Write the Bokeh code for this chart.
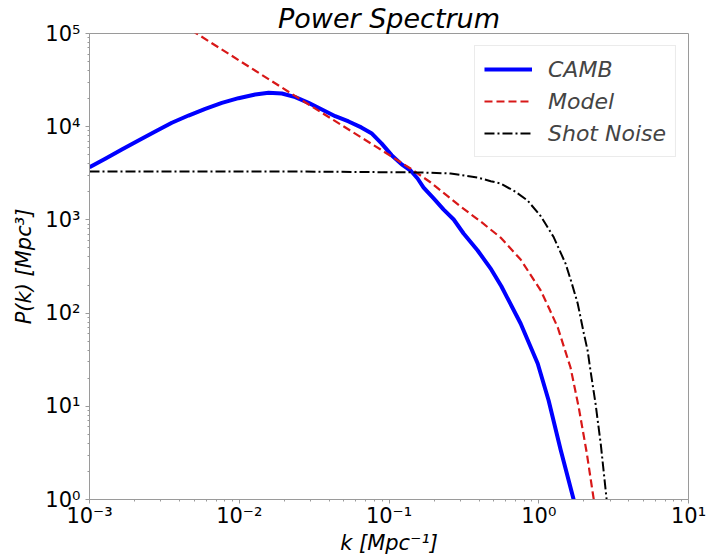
from bokeh.plotting import figure
from bokeh.models import FixedTicker, Legend, LegendItem, Range1d
from bokeh.embed import file_html
from bokeh.resources import INLINE

# ---- data ----
camb_k = [0.001000, 0.001274, 0.001644, 0.002123, 0.002748, 0.003548, 0.004581, 0.005929,
          0.007656, 0.009886, 0.01279, 0.01570, 0.01928, 0.02366, 0.02904, 0.03565,
          0.04375, 0.05370, 0.06530, 0.07630, 0.08910, 0.1041, 0.1215, 0.1393,
          0.1552, 0.1702, 0.1986, 0.2317, 0.2704, 0.3148, 0.3908, 0.4816, 0.5626,
          0.7568, 0.9840, 1.164, 1.400, 1.710, 1.905]
camb_p = [3673, 4529, 5689, 7112, 8872, 11020, 13180, 15560,
          18030, 20230, 22130, 23120, 22700, 20750, 18030, 15310,
          12970, 11380, 9830, 8520, 6630, 4950, 3940, 3388,
          2780, 2225, 1698, 1290, 1010, 714.5, 469.9, 294, 194,
          77.27, 28.77, 11.53, 3.41, 1.0, 0.3133]

model_k = [0.001, 0.00519, 0.0257, 0.0879, 0.139, 0.190, 0.221, 0.301, 0.409, 0.556,
           0.757, 1.03, 1.18, 1.34, 1.49, 1.63, 1.85, 2.09, 2.33, 2.59]
model_p = [524000, 100000, 19600, 5690, 3560, 2520, 2070, 1390, 962, 647,
           376, 175, 110, 70.0, 41.0, 26.1, 9.70, 3.19, 1.0, 0.313]

shot_k = [0.001, 0.0257, 0.163, 0.258, 0.391, 0.478, 0.556, 0.70, 0.843, 1.03, 1.26,
          1.51, 1.65, 1.82, 2.0, 2.12, 2.2, 2.4, 2.6, 2.84, 3.07]
shot_p = [3300, 3300, 3230, 3150, 2850, 2600, 2460, 2000, 1610, 1100, 650,
          340, 217, 127, 60.5, 39.7, 26.1, 10.4, 3.83, 1.0, 0.30]

x_ticks = [1e-3, 1e-2, 1e-1, 1e0, 1e1]
x_tick_labels = ["10⁻³", "10⁻²", "10⁻¹", "10⁰", "10¹"]
y_ticks = [1e0, 1e1, 1e2, 1e3, 1e4, 1e5]
y_tick_labels = ["10⁰", "10¹", "10²", "10³", "10⁴", "10⁵"]

series_names = ["CAMB", "Model", "Shot Noise"]

FONT = "DejaVu Sans"
SPINE = "#9a9a9a"

p = figure(width=708, height=560, x_axis_type="log", y_axis_type="log",
           x_range=Range1d(1e-3, 1e1), y_range=Range1d(1, 1e5),
           output_backend="svg", toolbar_location=None,
           min_border_left=89, min_border_right=20, min_border_top=33,
           min_border_bottom=61, title="Power Spectrum")

p.title.text_font = FONT
p.title.text_font_style = "italic"
p.title.text_font_size = "27px"
p.title.align = "center"
p.title.standoff = 0
p.title.text_color = "black"

p.xgrid.visible = False
p.ygrid.visible = False
p.outline_line_color = SPINE
p.outline_line_width = 1


def minor_list(lo, hi):
    out = []
    for e in range(lo, hi):
        for m in range(2, 10):
            out.append(m * 10.0 ** e)
    return out


p.xaxis.ticker = FixedTicker(ticks=x_ticks, minor_ticks=minor_list(-3, 1))
p.yaxis.ticker = FixedTicker(ticks=y_ticks, minor_ticks=minor_list(0, 5))
p.xaxis.major_label_overrides = dict(zip(x_ticks, x_tick_labels))
p.yaxis.major_label_overrides = dict(zip(y_ticks, y_tick_labels))

for ax in (p.xaxis, p.yaxis):
    ax.axis_line_color = SPINE
    ax.major_tick_line_color = SPINE
    ax.minor_tick_line_color = SPINE
    ax.major_tick_out = 4
    ax.major_tick_in = 0
    ax.minor_tick_out = 2
    ax.minor_tick_in = 0
    ax.major_label_text_font = FONT
    ax.major_label_text_font_size = "21px"
    ax.major_label_text_color = "black"
    ax.axis_label_text_font = FONT
    ax.axis_label_text_font_size = "21px"
    ax.axis_label_text_font_style = "italic"
    ax.axis_label_text_color = "black"

p.xaxis.axis_label = "k [Mpc⁻¹]"
p.yaxis.axis_label = "P(k) [Mpc³]"
p.xaxis.major_label_standoff = 0
p.yaxis.major_label_standoff = 5
p.xaxis.axis_label_standoff = 0
p.yaxis.axis_label_standoff = 6

r1 = p.line(camb_k, camb_p, line_color="#0000ff", line_width=4, line_join="round")
r2 = p.line(model_k, model_p, line_color="#d81818", line_width=2.2, line_dash="8 4")
r3 = p.line(shot_k, shot_p, line_color="black", line_width=2, line_dash="10 3 2 3")

legend = Legend(items=[LegendItem(label=series_names[0], renderers=[r1]),
                       LegendItem(label=series_names[1], renderers=[r2]),
                       LegendItem(label=series_names[2], renderers=[r3])],
                location="top_right")
legend.label_text_font = FONT
legend.label_text_font_style = "italic"
legend.label_text_font_size = "22px"
legend.glyph_width = 48
legend.glyph_height = 28
legend.label_height = 28
legend.label_standoff = 16
legend.spacing = 4
legend.padding = 9
legend.margin = 12
legend.border_line_color = "#d8d8d8"
legend.border_line_width = 1
legend.background_fill_alpha = 0.85
p.add_layout(legend)

open("out.html", "w").write(file_html(p, INLINE))
